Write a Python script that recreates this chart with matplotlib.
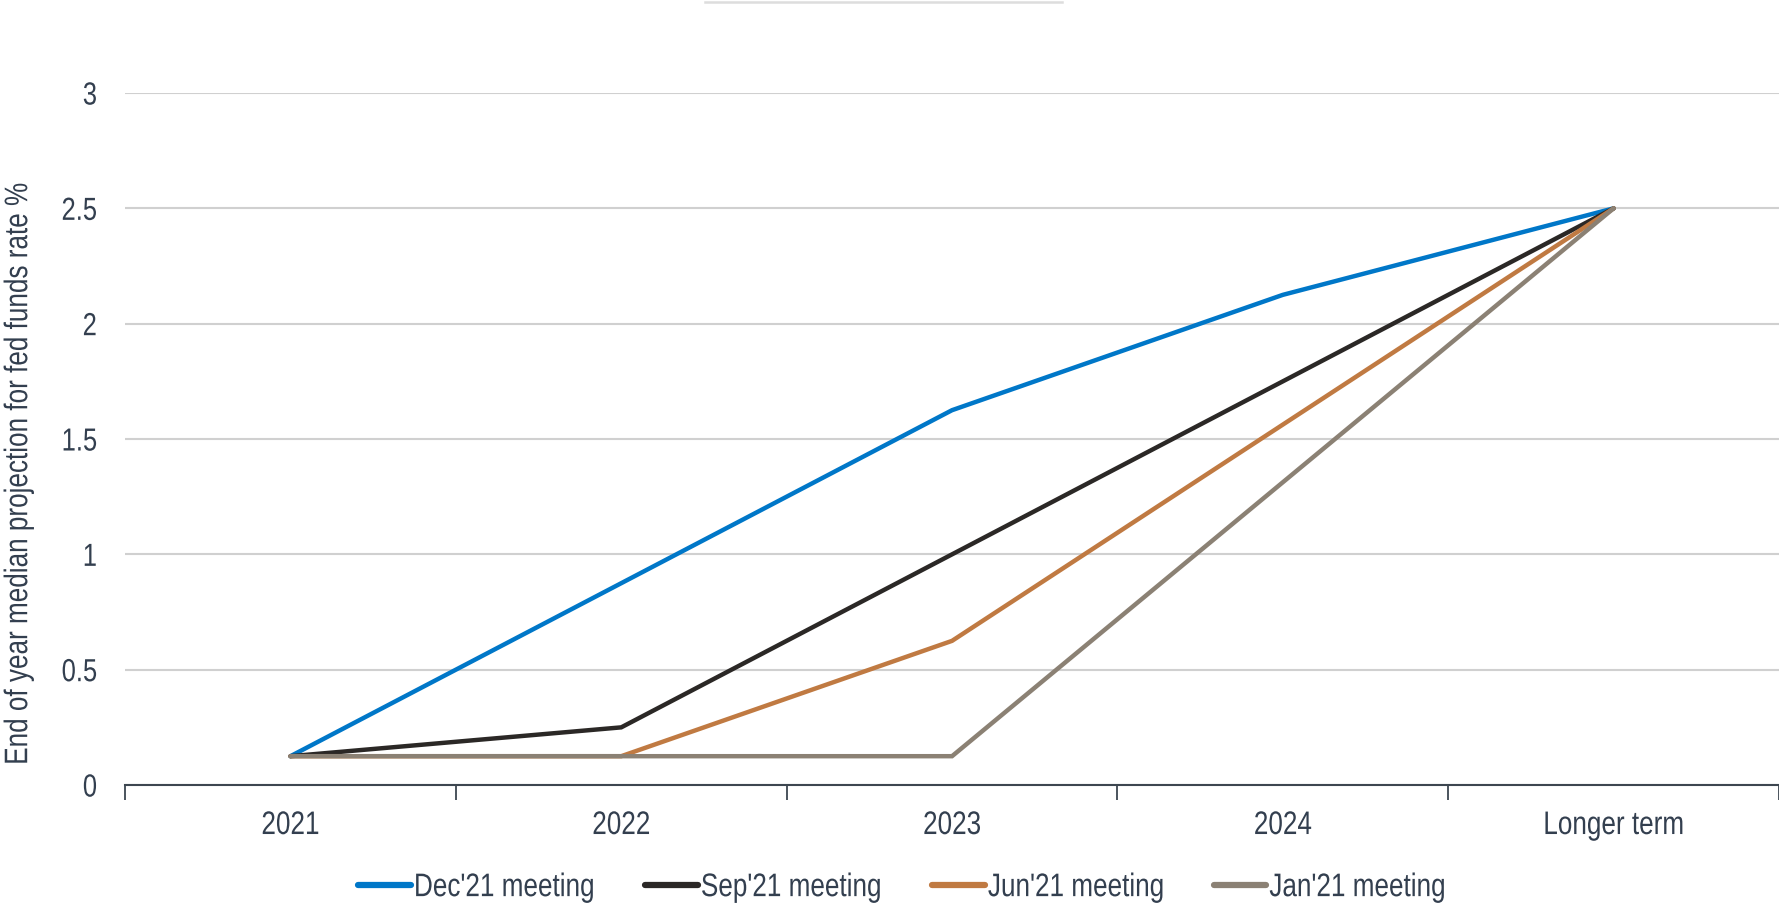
import numpy as np
import matplotlib.pyplot as plt
from matplotlib.lines import Line2D
from matplotlib.patheffects import AbstractPathEffect
from matplotlib.transforms import Affine2D

# Median end-of-year fed funds projections by FOMC meeting
categories = ['2021', '2022', '2023', '2024', 'Longer term']
dec21 = [0.125, 0.875, 1.625, 2.125, 2.5]
sep21 = [0.125, 0.25, 1.0, 1.75, 2.5]
jun21 = [0.125, 0.125, 0.625, np.nan, 2.5]   # no 2024 projection
jan21 = [0.125, 0.125, 0.125, np.nan, 2.5]   # no 2024 projection

series = [
    ("Dec'21 meeting", dec21, '#0077C8'),
    ("Sep'21 meeting", sep21, '#2B2826'),
    ("Jun'21 meeting", jun21, '#C07A42'),
    ("Jan'21 meeting", jan21, '#8B8174'),
]

text_col = '#333F4F'
plt.rcParams['font.family'] = ['Liberation Sans', 'DejaVu Sans']


class Narrow(AbstractPathEffect):
    """Squeeze glyphs along the text direction (Arial Narrow look)."""

    def __init__(self, sx=0.8, anchor='center'):
        super().__init__()
        self.sx = sx
        self.anchor = anchor

    def draw_path(self, renderer, gc, tpath, affine, rgbFace=None):
        ext = tpath.get_extents()
        if self.anchor == 'center':
            cx = 0.5 * (ext.x0 + ext.x1)
        elif self.anchor == 'right':
            cx = ext.x1
        else:
            cx = 0.0
        squeeze = Affine2D().translate(-cx, 0).scale(self.sx, 1).translate(cx, 0)
        renderer.draw_path(gc, tpath, squeeze + affine, rgbFace)


fig = plt.figure(figsize=(17.79, 9.04), dpi=100)
ax = fig.add_axes([0.0703, 0.1305, 0.9297, 0.7655])

x = np.arange(len(categories))
for label, vals, col in series:
    v = np.array(vals, dtype=float)
    ok = ~np.isnan(v)
    # skip missing years so the line joins the neighbouring points
    ax.plot(x[ok], v[ok], color=col, lw=3.2, label=label,
            solid_capstyle='round', solid_joinstyle='miter', zorder=3)

ax.set_xlim(-0.5, len(categories) - 0.5)
ax.set_ylim(0, 3)
ax.set_yticks([0, 0.5, 1, 1.5, 2, 2.5, 3])
ax.set_yticklabels(['0', '0.5', '1', '1.5', '2', '2.5', '3'])
ax.grid(axis='y', color='#D0D0D0', lw=1.5, zorder=0)
ax.set_axisbelow(True)

for s in ['top', 'right', 'left']:
    ax.spines[s].set_visible(False)
ax.spines['bottom'].set_color('#3D4650')
ax.spines['bottom'].set_linewidth(1.5)

# category labels between boundary ticks
ax.set_xticks(np.arange(-0.5, len(categories) + 0.5, 1.0))
ax.set_xticklabels([])
ax.tick_params(axis='x', which='major', length=11, width=1.3,
               color='#3D4650', direction='out')
ax.set_xticks(x, minor=True)
ax.set_xticklabels(categories, minor=True, fontsize=23.5, color=text_col)
for t in ax.get_xticklabels(minor=True):
    t.set_path_effects([Narrow(0.8)])
ax.tick_params(axis='x', which='minor', length=0, pad=18)
ax.tick_params(axis='y', length=0, pad=20, labelsize=23, labelcolor=text_col)
for t in ax.get_yticklabels():
    t.set_path_effects([Narrow(0.8, anchor='right')])

fig.text(0.0105, 0.475, 'End of year median projection for fed funds rate %',
         rotation=90, ha='center', va='center', fontsize=23.5, color=text_col,
         path_effects=[Narrow(0.8)])

handles = [Line2D([0], [0], color=c, lw=4.5, solid_capstyle='round')
           for _, _, c in series]
leg = fig.legend(handles, [s[0] for s in series], loc='center left',
                 bbox_to_anchor=(0.185, 0.017), ncol=4, frameon=False,
                 handlelength=1.6, handletextpad=0.1, columnspacing=0.17,
                 prop={'size': 23.5})
for t in leg.get_texts():
    t.set_color(text_col)
    t.set_path_effects([Narrow(0.8, anchor='left')])

# faint rule near the top edge
fig.add_artist(Line2D([705 / 1779, 1062 / 1779], [0.9965, 0.9965],
                      transform=fig.transFigure, color='#DDDDDD', lw=1.8))

fig.savefig('out.png', dpi=100)
